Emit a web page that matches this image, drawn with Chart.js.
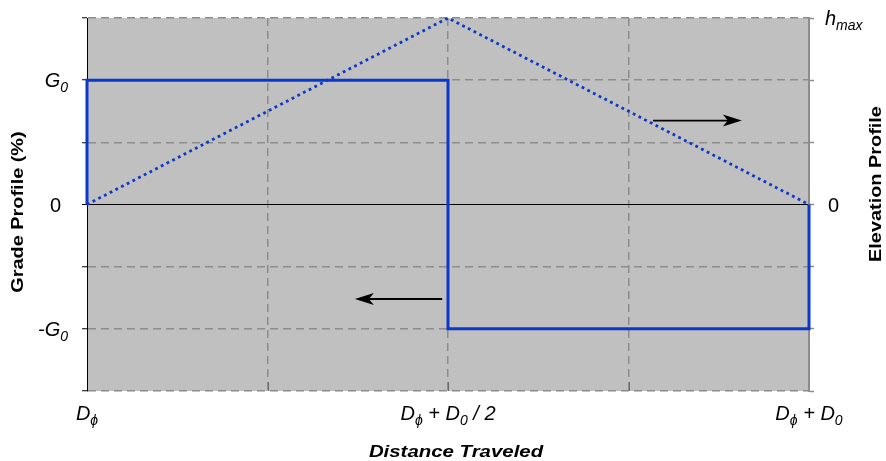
<!DOCTYPE html>
<html>
<head>
<meta charset="utf-8">
<script src="https://cdn.jsdelivr.net/npm/chart.js@4/dist/chart.umd.min.js"></script>
<style>
html,body{margin:0;padding:0;background:#ffffff;}
canvas{display:block;}
</style>
</head>
<body>
<canvas id="c" width="886" height="461"></canvas>
<script>
// ---- data ----
const distanceTickValues = [0, 0.5, 1];
const distanceTickLabels = ['D_{ϕ}', 'D_{ϕ} + D_{0} / 2', 'D_{ϕ} + D_{0}'];
const gradeTickValues = [2, 0, -2];
const gradeTickLabels = ['G_{0}', '0', '-G_{0}'];
const elevationTickValues = [3, 0];
const elevationTickLabels = ['h_{max}', '0'];

const gradeX = [0, 0, 0.5, 0.5, 1, 1];
const gradeY = [0, 2, 2, -2, -2, 0];
const elevationX = [0, 0.5, 1];
const elevationY = [0, 3, 0];

// arrow annotations (data coordinates): [xFrom, xTo, y]
const gradeArrow = [0.492, 0.371, -1.52];
const elevationArrow = [0.784, 0.907, 1.35];

const titleX = 'Distance Traveled';
const titleY = 'Grade Profile (%)';
const titleY2 = 'Elevation Profile';

// ---- styles ----
const BLUE = '#0a37cc';
const GRID = '#8c8c8c';
const FONT = '"Liberation Sans", Arial, Helvetica, sans-serif';

function richSegments(label) {
  const parts = [];
  const re = /_\{([^}]*)\}/g;
  let last = 0, m;
  while ((m = re.exec(label))) {
    if (m.index > last) parts.push({ t: label.slice(last, m.index), sub: false });
    parts.push({ t: m[1], sub: true });
    last = re.lastIndex;
  }
  if (last < label.length) parts.push({ t: label.slice(last), sub: false });
  return parts;
}

function drawRich(ctx, label, x, baseline, align) {
  const italic = label !== '0';
  const segs = richSegments(label);
  const mainFont = (italic ? 'italic ' : '') + '20px ' + FONT;
  const subFont = (italic ? 'italic ' : '') + '14px ' + FONT;
  let w = 0;
  segs.forEach(s => { ctx.font = s.sub ? subFont : mainFont; s.w = ctx.measureText(s.t).width; w += s.w; });
  let cx = align === 'left' ? x : (align === 'right' ? x - w : x - w / 2);
  ctx.textAlign = 'left';
  ctx.textBaseline = 'alphabetic';
  segs.forEach(s => {
    ctx.font = s.sub ? subFont : mainFont;
    ctx.fillText(s.t, cx, baseline + (s.sub ? 5 : 0));
    cx += s.w;
  });
}

function drawArrow(ctx, x1, y1, x2, y2) {
  const ang = Math.atan2(y2 - y1, x2 - x1);
  const ux = Math.cos(ang), uy = Math.sin(ang);
  const px = -uy, py = ux;
  ctx.save();
  ctx.strokeStyle = '#000';
  ctx.fillStyle = '#000';
  ctx.lineWidth = 1.8;
  ctx.beginPath();
  ctx.moveTo(x1, y1);
  ctx.lineTo(x2 - ux * 10, y2 - uy * 10);
  ctx.stroke();
  ctx.beginPath();
  ctx.moveTo(x2, y2);
  ctx.lineTo(x2 - ux * 19 + px * 6, y2 - uy * 19 + py * 6);
  ctx.lineTo(x2 - ux * 14, y2 - uy * 14);
  ctx.lineTo(x2 - ux * 19 - px * 6, y2 - uy * 19 - py * 6);
  ctx.closePath();
  ctx.fill();
  ctx.restore();
}

function stretchedText(ctx, text, x, y, rot, sx) {
  ctx.save();
  ctx.translate(x, y);
  ctx.rotate(rot);
  ctx.scale(sx, 1);
  ctx.fillText(text, 0, 0);
  ctx.restore();
}

const decor = {
  id: 'decor',
  beforeDraw(chart) {
    const { ctx, chartArea: a } = chart;
    ctx.save();
    ctx.fillStyle = '#ffffff';
    ctx.fillRect(0, 0, chart.width, chart.height);
    ctx.fillStyle = '#c0c0c0';
    ctx.fillRect(a.left, a.top, a.right - a.left, a.bottom - a.top);
    ctx.restore();
  },
  afterDraw(chart) {
    const { ctx, scales, chartArea: a } = chart;
    const sx = scales.x, sy = scales.y, sy2 = scales.y2;
    ctx.save();
    // small inward ticks on the bottom axis
    ctx.strokeStyle = '#6a6a6a';
    ctx.lineWidth = 1;
    sx.ticks.forEach(t => {
      if (t.value > 0 && t.value < 1) {
        const px = Math.round(sx.getPixelForValue(t.value)) + 0.5;
        ctx.beginPath();
        ctx.moveTo(px, a.bottom);
        ctx.lineTo(px, a.bottom - 9);
        ctx.stroke();
      }
    });
    ctx.fillStyle = '#000';
    // tick labels
    gradeTickValues.forEach((v, i) => {
      const lab = gradeTickLabels[i];
      drawRich(ctx, lab, lab === '0' ? 61 : 68, sy.getPixelForValue(v) + 7, 'right');
    });
    elevationTickValues.forEach((v, i) => {
      const lab = elevationTickLabels[i];
      const y = sy2.getPixelForValue(v);
      drawRich(ctx, lab, lab === '0' ? 828 : 825, y + 7, 'left');
    });
    distanceTickValues.forEach((v, i) => {
      drawRich(ctx, distanceTickLabels[i], sx.getPixelForValue(v), 420, 'center');
    });
    // axis titles
    ctx.font = 'bold 17px ' + FONT;
    ctx.textAlign = 'center';
    ctx.textBaseline = 'middle';
    stretchedText(ctx, titleY, 18, 212, -Math.PI / 2, 1.17);
    stretchedText(ctx, titleY2, 876, 184, -Math.PI / 2, 1.17);
    ctx.font = 'italic bold 17px ' + FONT;
    ctx.textBaseline = 'alphabetic';
    stretchedText(ctx, titleX, 456, 457, 0, 1.2);
    // arrows
    drawArrow(ctx, sx.getPixelForValue(gradeArrow[0]), sy.getPixelForValue(gradeArrow[2]),
              sx.getPixelForValue(gradeArrow[1]), sy.getPixelForValue(gradeArrow[2]));
    drawArrow(ctx, sx.getPixelForValue(elevationArrow[0]), sy.getPixelForValue(elevationArrow[2]),
              sx.getPixelForValue(elevationArrow[1]), sy.getPixelForValue(elevationArrow[2]));
    ctx.restore();
  }
};

new Chart(document.getElementById('c'), {
  type: 'line',
  data: {
    datasets: [
      {
        label: 'Grade Profile',
        data: gradeX.map((x, i) => ({ x, y: gradeY[i] })),
        yAxisID: 'y',
        borderColor: BLUE,
        borderWidth: 3,
        borderJoinStyle: 'miter',
        pointRadius: 0,
        fill: false,
        tension: 0,
        clip: false
      },
      {
        label: 'Elevation Profile',
        data: elevationX.map((x, i) => ({ x, y: elevationY[i] })),
        yAxisID: 'y2',
        borderColor: BLUE,
        borderWidth: 2.8,
        borderDash: [2.8, 3.6],
        borderCapStyle: 'butt',
        pointRadius: 0,
        fill: false,
        tension: 0,
        clip: false
      }
    ]
  },
  options: {
    responsive: false,
    animation: false,
    devicePixelRatio: 1,
    layout: { padding: { top: 18, left: 0, right: 0, bottom: 0 } },
    plugins: { legend: { display: false }, tooltip: { enabled: false } },
    scales: {
      x: {
        type: 'linear', position: 'bottom', min: 0, max: 1,
        ticks: { display: false, stepSize: 0.25 },
        grid: {
          color: c => (c.tick && (c.tick.value === 0 || c.tick.value === 1)) ? 'rgba(0,0,0,0)' : GRID,
          lineWidth: 1.5, drawTicks: false
        },
        border: { display: false, dash: [8, 5] },
        afterFit: s => { s.height = 70; }
      },
      y: {
        type: 'linear', position: 'left', min: -3, max: 3,
        ticks: { display: false, stepSize: 1 },
        grid: {
          color: c => (c.tick && c.tick.value === 0) ? '#000000' : GRID,
          lineWidth: c => (c.tick && c.tick.value === 0) ? 1 : 1.5,
          tickColor: '#000000', tickLength: 5, tickWidth: 1
        },
        border: { display: true, color: '#000000', width: 1,
          dash: c => (c.tick && c.tick.value === 0) ? [] : [8, 5] },
        afterFit: s => { s.width = 87; }
      },
      y2: {
        type: 'linear', position: 'right', min: -3, max: 3,
        ticks: { display: false, stepSize: 1 },
        grid: { drawOnChartArea: false, tickColor: GRID, tickLength: 5, tickWidth: 1.5 },
        border: { display: true, color: GRID, width: 2 },
        afterFit: s => { s.width = 77; }
      }
    }
  },
  plugins: [decor]
});
</script>
</body>
</html>
